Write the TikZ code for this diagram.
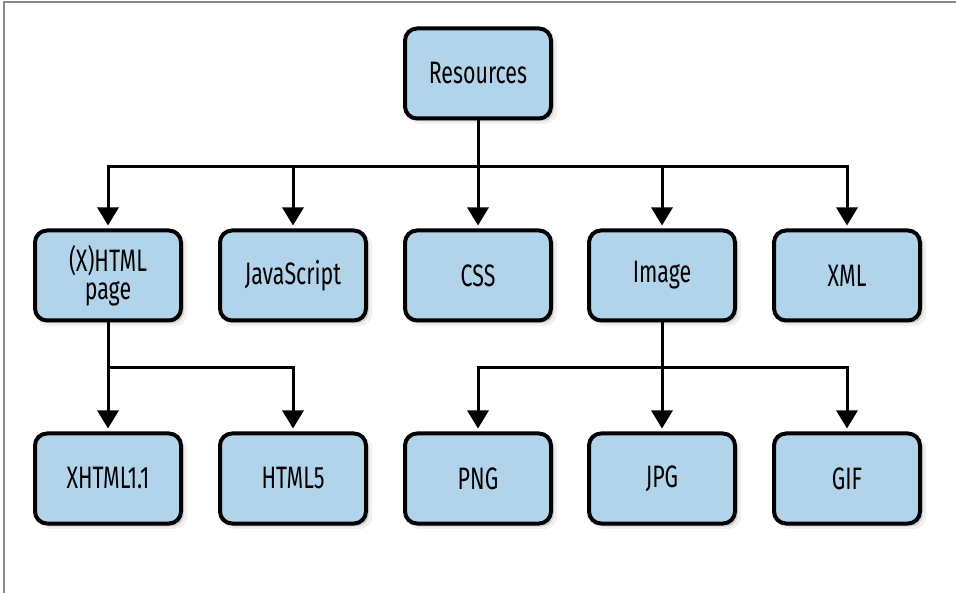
\documentclass[tikz,border=0pt]{standalone}
\usepackage{fontspec}
\setmainfont{Fira Sans}[FakeStretch=0.69]
\usetikzlibrary{arrows.meta, shadows}
\definecolor{resblue}{HTML}{B2D4EA}
\definecolor{framegray}{HTML}{8C8C8C}

\begin{document}
\begin{tikzpicture}[
  x=1pt, y=-1pt,
  res/.style={rectangle, rounded corners=12pt, draw=black, line width=4pt, fill=resblue,
    minimum width=146pt, minimum height=90pt, inner sep=2pt, align=center,
    font=\fontsize{31pt}{28pt}\selectfont,
    drop shadow={shadow xshift=4pt, shadow yshift=-4pt, opacity=0.12, shadow scale=1.03},
    drop shadow={shadow xshift=3pt, shadow yshift=-3pt, opacity=0.25}},
  link/.style={line width=3pt, -{Triangle[width=21pt, length=18pt]}, shorten >=3pt},
]
\useasboundingbox (0,0) rectangle (956,593);
\draw[framegray, line width=2pt] (4,593) -- (4,2) -- (956,2);

% top level
\node[res] (top) at (478,73.5) {Resources};

% resource types
\node[res] (xhtml) at (108,275.5) {(X)HTML\\page};
\node[res] (js) at (293,275.5) {JavaScript};
\node[res] (css) at (478,275.5) {CSS};
\node[res] (img) at (662,275.5) {Image};
\node[res] (xml) at (847,275.5) {XML};

% sub types
\node[res] (xhtml11) at (108,478.5) {XHTML1.1};
\node[res] (html5) at (293,478.5) {HTML5};
\node[res] (png) at (478,478.5) {PNG};
\node[res] (jpg) at (662,478.5) {JPG};
\node[res] (gif) at (847,478.5) {GIF};

\draw[link] (top.south) -- ++(0,46) -| (xhtml.north);
\draw[link] (top.south) -- ++(0,46) -| (js.north);
\draw[link] (top.south) -- (css.north);
\draw[link] (top.south) -- ++(0,46) -| (img.north);
\draw[link] (top.south) -- ++(0,46) -| (xml.north);

\draw[link] (xhtml.south) -- ++(0,45) -| (xhtml11.north);
\draw[link] (xhtml.south) -- ++(0,45) -| (html5.north);
\draw[link] (img.south) -- ++(0,45) -| (png.north);
\draw[link] (img.south) -- (jpg.north);
\draw[link] (img.south) -- ++(0,45) -| (gif.north);
\end{tikzpicture}
\end{document}
